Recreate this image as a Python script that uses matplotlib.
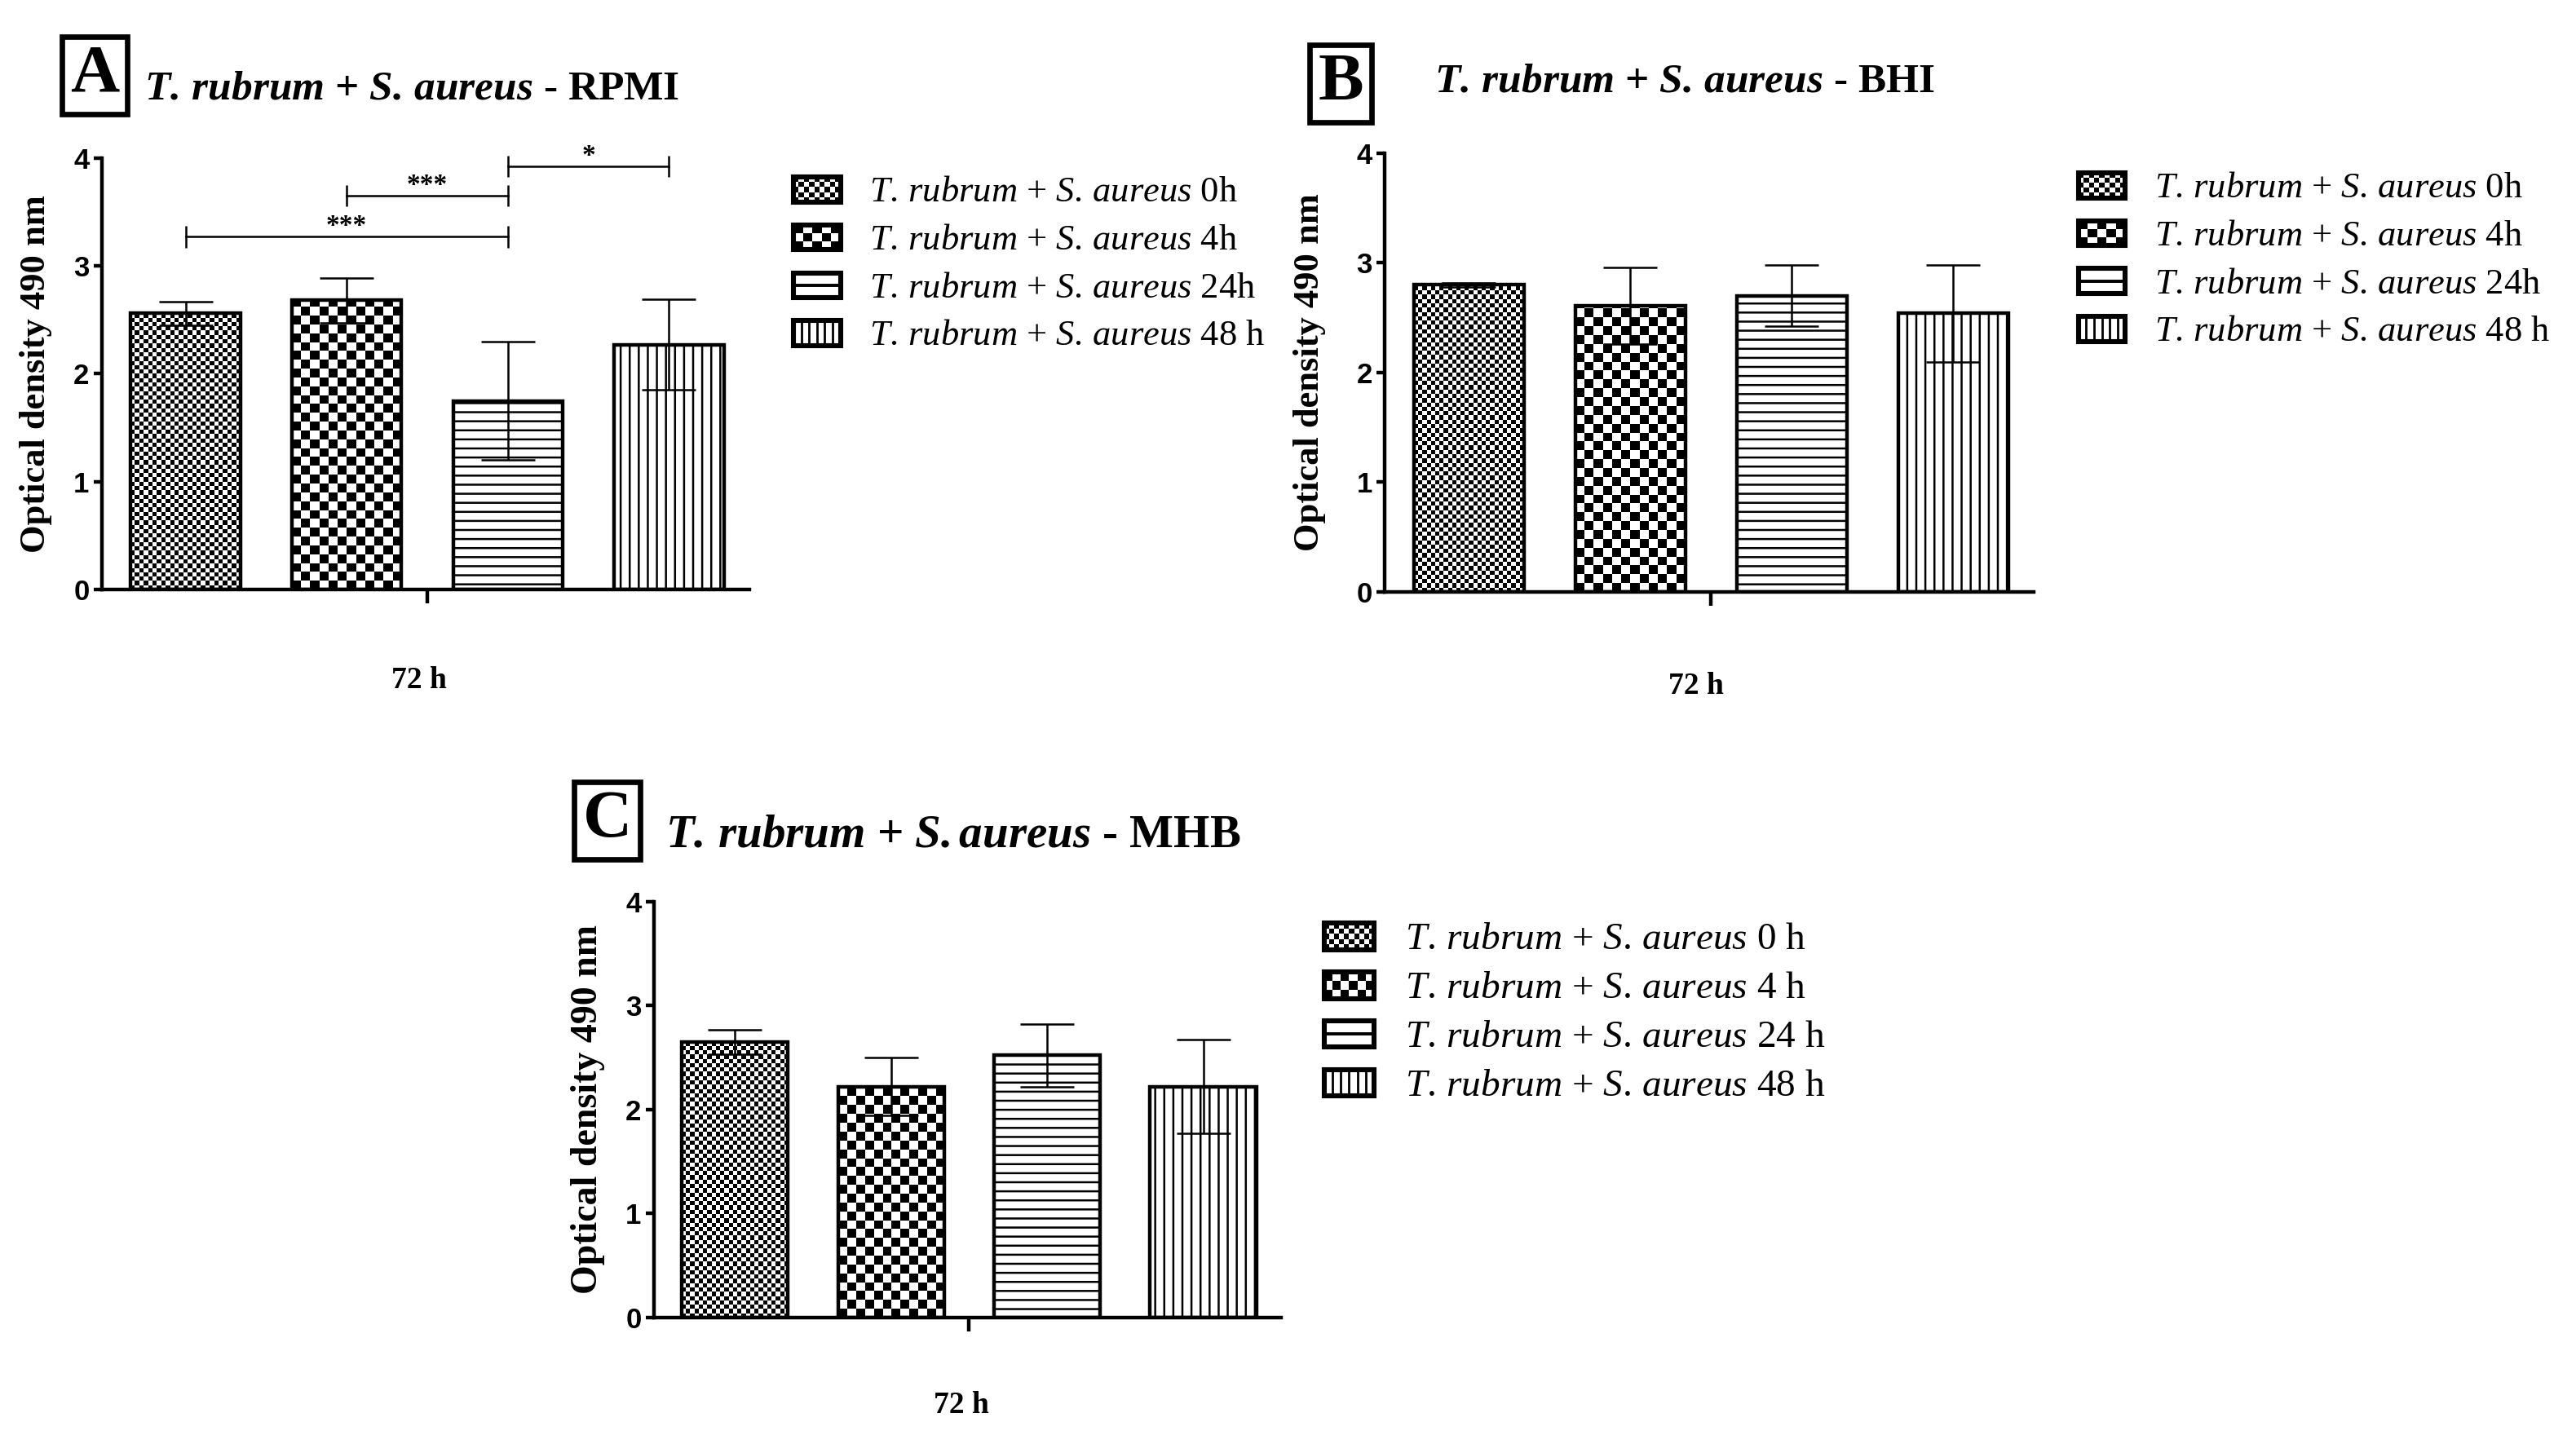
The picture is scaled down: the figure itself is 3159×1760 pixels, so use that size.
import numpy as np
import matplotlib
matplotlib.use("Agg")
import matplotlib.pyplot as plt
from matplotlib.patches import Rectangle
from matplotlib.lines import Line2D

plt.rcParams['font.family'] = ['Liberation Serif', 'DejaVu Serif']
plt.rcParams['mathtext.fontset'] = 'custom'
plt.rcParams['mathtext.rm'] = 'Liberation Serif'
plt.rcParams['mathtext.it'] = 'Liberation Serif:italic'
plt.rcParams['mathtext.bf'] = 'Liberation Serif:bold'
plt.rcParams['mathtext.bfit'] = 'Liberation Serif:italic:bold'
plt.rcParams['hatch.linewidth'] = 0.9

# data (optical density at 490 nm, 72 h)
groups = ['0h', '4h', '24h', '48 h']
groups_c = ['0 h', '4 h', '24 h', '48 h']
rpmi_mean = [2.56, 2.68, 1.75, 2.27]
rpmi_sd = [0.11, 0.21, 0.55, 0.42]
bhi_mean = [2.80, 2.61, 2.70, 2.54]
bhi_sd = [0.02, 0.35, 0.28, 0.44]
mhb_mean = [2.65, 2.22, 2.52, 2.22]
mhb_sd = [0.12, 0.28, 0.30, 0.45]
# significance brackets for RPMI: (from bar, to bar, height, stars)
rpmi_sig = [(0, 2, 3.27, '***'), (1, 2, 3.65, '***'), (2, 3, 3.92, '*')]

patterns = ['fine', 'coarse', 'hlines', 'vlines']
hatches = {'hlines': '---', 'vlines': '|||'}


def checker_fill(ax, bar, cell_pt):
    # checkerboard inside one bar, clipped to the bar outline
    fig = ax.figure
    x0, w, h = bar.get_x(), bar.get_width(), bar.get_height()
    p0 = ax.transData.transform((x0, 0))
    p1 = ax.transData.transform((x0 + w, 1))
    cell = cell_pt * fig.dpi / 72
    nx = max(1, int(round((p1[0] - p0[0]) / cell)))
    ch = cell / (p1[1] - p0[1])
    ny = int(np.ceil(h / ch)) + 1
    grid = np.add.outer(np.arange(ny), np.arange(nx)) % 2
    im = ax.imshow(grid, cmap='gray', vmin=0, vmax=1, origin='lower',
                   extent=(x0, x0 + w, 0, ny * ch), aspect='auto',
                   interpolation='nearest', zorder=1.5)
    im.set_clip_path(bar)


class PatternHandler:
    def __init__(self, kind):
        self.kind = kind

    def legend_artist(self, legend, orig_handle, fontsize, handlebox):
        x0, y0 = handlebox.xdescent, handlebox.ydescent
        w, h = handlebox.width, handlebox.height
        tr = handlebox.get_transform()
        handlebox.add_artist(Rectangle((x0, y0), w, h, fc='white', ec='none', transform=tr))
        if self.kind in ('fine', 'coarse'):
            cell = 2.2 if self.kind == 'fine' else 4.0
            nx = int(round(w / cell))
            ny = int(round(h / cell))
            cw, chh = w / nx, h / ny
            for i in range(nx):
                for j in range(ny):
                    if (i + j) % 2 == 0:
                        handlebox.add_artist(Rectangle((x0 + i * cw, y0 + j * chh), cw, chh,
                                                       fc='black', ec='none', transform=tr))
        elif self.kind == 'hlines':
            handlebox.add_artist(Line2D([x0, x0 + w], [y0 + h / 2] * 2, color='black',
                                        lw=1.4, transform=tr))
        else:
            for k in range(1, 6):
                xx = x0 + w * k / 6
                handlebox.add_artist(Line2D([xx, xx], [y0, y0 + h], color='black',
                                            lw=1.0, transform=tr))
        border = Rectangle((x0, y0), w, h, fc='none', ec='black', lw=2.2, transform=tr)
        handlebox.add_artist(border)
        return border


def draw_panel(fig, rect, means, sds, labels, leg_anchor, leg_size, leg_space,
               xlab_pos, ylab_x, ylab_size):
    ax = fig.add_axes(rect)
    x = np.arange(len(means))
    ax.set_xlim(-0.52, 3.5)
    ax.set_ylim(0, 4)
    bars = ax.bar(x, means, width=0.68, color='white', edgecolor='black', linewidth=0, zorder=1)
    for b, kind in zip(bars, patterns):
        if kind in hatches:
            b.set_hatch(hatches[kind])
            b.set_edgecolor('black')
    ax.bar(x, means, width=0.68, fill=False, edgecolor='black', linewidth=1.6, zorder=2)
    for b, kind in zip(bars, patterns):
        if kind == 'fine':
            checker_fill(ax, b, 1.9)
        elif kind == 'coarse':
            checker_fill(ax, b, 3.9)
    ax.errorbar(x, means, yerr=sds, fmt='none', ecolor='black', elinewidth=0.9,
                capsize=12, capthick=0.9, zorder=3)
    ax.set_xlim(-0.52, 3.5)
    ax.set_ylim(0, 4)

    for s in ['top', 'right']:
        ax.spines[s].set_visible(False)
    for s in ['left', 'bottom']:
        ax.spines[s].set_linewidth(1.6)
    ax.set_xticks([1.5])
    ax.set_xticklabels([''])
    ax.tick_params(axis='x', length=6, width=1.6, direction='out')
    ax.set_yticks(range(5))
    ax.tick_params(axis='y', length=3.5, width=1.6, direction='out', pad=2)
    for t in ax.get_yticklabels():
        t.set_fontfamily(['Liberation Sans', 'DejaVu Sans'])
        t.set_fontweight('bold')
        t.set_fontsize(12.5)

    ax.set_ylabel('Optical density 490 nm', fontsize=ylab_size, fontweight='bold', va='center')
    ax.yaxis.set_label_coords(ylab_x, 0.5)
    ax.text(xlab_pos[0], xlab_pos[1], '72 h', transform=ax.transAxes, ha='center',
            va='center', fontsize=13.5, fontweight='bold')

    handles = [Rectangle((0, 0), 1, 1) for _ in labels]
    leg_labels = [r'$\mathit{T.\,rubrum}$ + $\mathit{S.\,aureus}$ ' + g for g in labels]
    ax.legend(handles, leg_labels, loc='upper left', bbox_to_anchor=leg_anchor,
              bbox_transform=fig.transFigure, frameon=False, borderpad=0, borderaxespad=0,
              fontsize=leg_size, handlelength=1.3, handleheight=0.68, handletextpad=0.8,
              labelspacing=leg_space,
              handler_map={h: PatternHandler(k) for h, k in zip(handles, patterns)})
    return ax, bars


fig = plt.figure(figsize=(15.795, 8.8), dpi=200)

axA, barsA = draw_panel(fig, [0.0395, 0.589, 0.2515, 0.301], rpmi_mean, rpmi_sd, groups,
                        (0.308, 0.877), 16, 0.42, (0.49, -0.21), -0.1015, 16)
axB, barsB = draw_panel(fig, [0.5376, 0.5875, 0.252, 0.3057], bhi_mean, bhi_sd, groups,
                        (0.8068, 0.880), 16, 0.42, (0.48, -0.215), -0.116, 16)
axC, barsC = draw_panel(fig, [0.2538, 0.0818, 0.2436, 0.29], mhb_mean, mhb_sd, groups_c,
                        (0.514, 0.357), 17, 0.36, (0.49, -0.21), -0.105, 16.5)

# significance brackets on RPMI
for i0, i1, yv, stars in rpmi_sig:
    axA.plot([i0, i1], [yv, yv], color='black', lw=0.9, clip_on=False, zorder=4)
    axA.vlines([i0, i1], yv - 0.1, yv + 0.1, color='black', lw=0.9, clip_on=False, zorder=4)
    axA.text((i0 + i1) / 2, yv - 0.02, stars, ha='center', va='bottom', fontsize=12,
             fontweight='bold')

# panel letters and titles
box = dict(boxstyle='square,pad=0.12', fc='white', ec='black', lw=2.4)
fig.text(0.0367, 0.9477, 'A', fontsize=30, fontweight='bold', ha='center', va='center', bbox=box)
fig.text(0.5204, 0.942, 'B', fontsize=30, fontweight='bold', ha='center', va='center', bbox=box)
fig.text(0.2357, 0.4284, 'C', fontsize=30, fontweight='bold', ha='center', va='center', bbox=box)

fig.text(0.0561, 0.9375, r'$\mathbfit{T.\,rubrum}$ + $\mathbfit{S.\,aureus}$ - RPMI',
         fontsize=18.5, fontweight='bold', ha='left', va='center')
fig.text(0.5568, 0.943, r'$\mathbfit{T.\,rubrum}$ + $\mathbfit{S.\,aureus}$ - BHI',
         fontsize=18.5, fontweight='bold', ha='left', va='center')
fig.text(0.2583, 0.418, r'$\mathbfit{T.\,rubrum}$ + $\mathbfit{S.aureus}$ - MHB',
         fontsize=20.5, fontweight='bold', ha='left', va='center')

fig.savefig('out.png', dpi=200, facecolor='white')
